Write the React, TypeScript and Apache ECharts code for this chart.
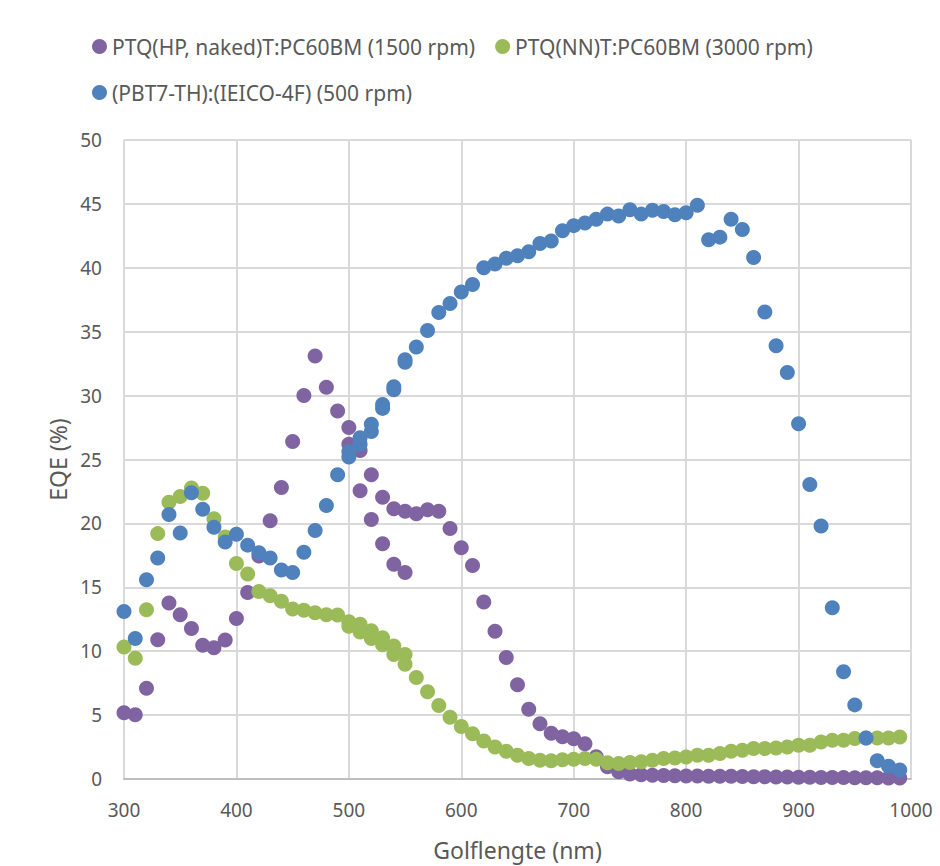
import React, { useEffect, useRef } from "react";
import * as echarts from "echarts";

// Wavelength grids (nm): two measurement ranges that overlap at 500-550
const range = (a: number, b: number, s: number) => {
  const out: number[] = [];
  for (let v = a; v <= b; v += s) out.push(v);
  return out;
};
const wl1 = range(300, 550, 10);
const wl2 = range(500, 990, 10);

const seriesNames = [
  "PTQ(HP, naked)T:PC60BM (1500 rpm)",
  "PTQ(NN)T:PC60BM (3000 rpm)",
  "(PBT7-TH):(IEICO-4F) (500 rpm)",
];

const purple1 = [5.18, 5.02, 7.1, 10.9, 13.77, 12.86, 11.78, 10.46, 10.27, 10.87, 12.55, 14.6, 17.45, 20.2, 22.8, 26.4, 30.0, 33.1, 30.65, 28.8, 26.2, 22.55, 20.3, 18.4, 16.8, 16.15];
const purple2 = [27.5, 25.7, 23.8, 22.05, 21.15, 20.95, 20.75, 21.07, 20.95, 19.6, 18.1, 16.7, 13.85, 11.57, 9.5, 7.37, 5.45, 4.32, 3.58, 3.3, 3.15, 2.75, 1.75, 0.96, 0.57, 0.4, 0.33, 0.3, 0.27, 0.25, 0.24, 0.23, 0.22, 0.22, 0.21, 0.2, 0.18, 0.17, 0.16, 0.15, 0.14, 0.13, 0.12, 0.12, 0.11, 0.1, 0.1, 0.09, 0.08, 0.08];

const green1 = [10.33, 9.45, 13.25, 19.2, 21.66, 22.1, 22.77, 22.36, 20.37, 18.94, 16.87, 16.05, 14.67, 14.34, 13.9, 13.3, 13.2, 13.0, 12.86, 12.84, 12.3, 12.1, 11.6, 11.05, 10.4, 9.75];
const green2 = [11.96, 11.5, 11.0, 10.5, 9.75, 8.98, 7.95, 6.83, 5.75, 4.84, 4.1, 3.55, 2.98, 2.51, 2.17, 1.86, 1.6, 1.47, 1.42, 1.5, 1.55, 1.6, 1.55, 1.27, 1.22, 1.3, 1.35, 1.47, 1.6, 1.65, 1.73, 1.86, 1.86, 2.0, 2.17, 2.25, 2.38, 2.38, 2.43, 2.51, 2.64, 2.64, 2.9, 3.03, 3.03, 3.16, 3.2, 3.2, 3.2, 3.28];

const blue1 = [13.1, 11.0, 15.6, 17.3, 20.7, 19.25, 22.4, 21.1, 19.7, 18.55, 19.15, 18.3, 17.7, 17.3, 16.35, 16.15, 17.75, 19.45, 21.4, 23.8, 25.2, 26.2, 27.2, 29.0, 30.45, 32.6];
const blue2 = [25.6, 26.7, 27.75, 29.3, 30.7, 32.8, 33.8, 35.1, 36.5, 37.2, 38.1, 38.7, 40.0, 40.3, 40.75, 40.95, 41.25, 41.9, 42.1, 42.9, 43.3, 43.5, 43.8, 44.2, 44.05, 44.55, 44.2, 44.5, 44.4, 44.15, 44.3, 44.9, 42.2, 42.4, 43.8, 43.0, 40.8, 36.55, 33.9, 31.8, 27.8, 23.05, 19.8, 13.4, 8.4, 5.8, 3.2, 1.42, 1.0, 0.7];

const colors = ["#8064A2", "#9BBB59", "#4F81BD"];

const pairs = (xs: number[], ys: number[]) => xs.map((x, i) => [x, ys[i]]);

export default function App() {
  const ref = useRef<HTMLDivElement>(null);
  useEffect(() => {
    if (!ref.current) return;
    const chart = echarts.init(ref.current, undefined, { renderer: "svg" });
    const font = "'Noto Sans', 'Open Sans', sans-serif";
    const legendText = { fontFamily: font, fontSize: 21, color: "#595959" };
    const mk = (i: number, xs1: number[], ys1: number[], xs2: number[], ys2: number[]) => ({
      name: seriesNames[i],
      type: "scatter",
      symbol: "circle",
      symbolSize: 15,
      itemStyle: { color: colors[i], opacity: 1 },
      emphasis: { disabled: true },
      data: [...pairs(xs1, ys1), ...pairs(xs2, ys2)],
    });
    chart.setOption({
      animation: false,
      backgroundColor: "#ffffff",
      color: colors,
      legend: [
        {
          data: [seriesNames[0], seriesNames[1]],
          left: 87,
          top: 31,
          icon: "circle",
          itemWidth: 15,
          itemHeight: 15,
          itemGap: 20,
          textStyle: legendText,
        },
        {
          data: [seriesNames[2]],
          left: 87,
          top: 77,
          icon: "circle",
          itemWidth: 15,
          itemHeight: 15,
          textStyle: legendText,
        },
      ],
      grid: { left: 124, right: 29, top: 140, bottom: 78, containLabel: false },
      xAxis: {
        type: "value",
        min: 300,
        max: 1000,
        interval: 100,
        name: "Golflengte (nm)",
        nameLocation: "middle",
        nameGap: 59,
        nameTextStyle: { fontFamily: font, fontSize: 23, color: "#595959" },
        axisLine: { show: true, lineStyle: { color: "#bfbfbf", width: 2 } },
        axisTick: { show: false },
        axisLabel: {
          fontFamily: font,
          fontSize: 19,
          color: "#595959",
          margin: 21,
          formatter: (v: number) => String(v),
        },
        splitLine: { show: true, lineStyle: { color: "#d9d9d9", width: 2 } },
      },
      yAxis: {
        type: "value",
        min: 0,
        max: 50,
        interval: 5,
        name: "EQE (%)",
        nameLocation: "middle",
        nameGap: 55,
        nameRotate: 90,
        nameTextStyle: { fontFamily: font, fontSize: 23, color: "#595959" },
        axisLine: { show: false },
        axisTick: { show: false },
        axisLabel: { fontFamily: font, fontSize: 19, color: "#595959", margin: 22 },
        splitLine: { show: true, lineStyle: { color: "#d9d9d9", width: 2 } },
      },
      series: [
        mk(0, wl1, purple1, wl2, purple2),
        mk(1, wl1, green1, wl2, green2),
        mk(2, wl1, blue1, wl2, blue2),
      ],
    });
    return () => chart.dispose();
  }, []);
  return (
    <div
      ref={ref}
      style={{ position: "fixed", left: 0, top: 0, width: 940, height: 866 }}
    />
  );
}
